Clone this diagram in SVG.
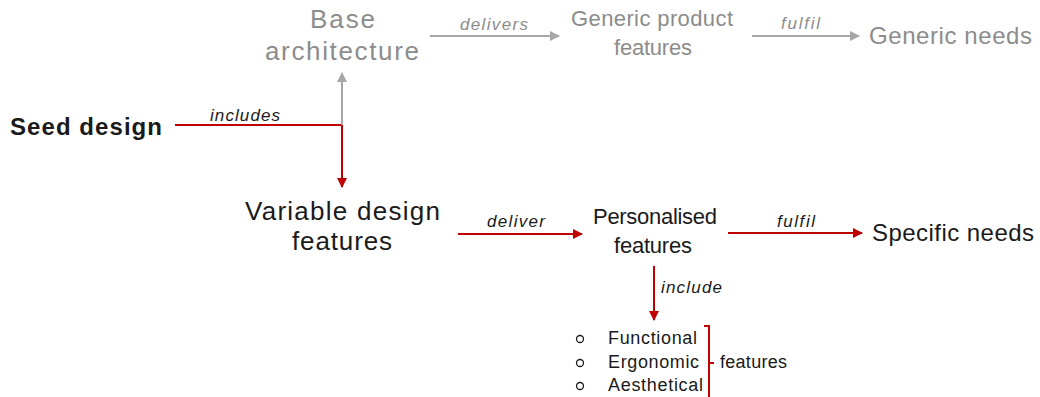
<svg xmlns="http://www.w3.org/2000/svg" width="1040" height="397" viewBox="0 0 1040 397">
<style>
text{font-family:"Liberation Sans","DejaVu Sans",sans-serif}
.g{fill:#8c8c8c}
.k{fill:#1a1a1a}
.lbl{font-style:italic;font-size:17px}
.gl{stroke:#a6a6a6;stroke-width:2;fill:none}
.rl{stroke:#c00000;stroke-width:2;fill:none}
</style>
<defs>
<marker id="ag" markerWidth="10" markerHeight="10" refX="9" refY="5" orient="auto" markerUnits="userSpaceOnUse"><path d="M0,0 L10,5 L0,10 z" fill="#a6a6a6"/></marker>
<marker id="ar" markerWidth="10" markerHeight="10" refX="9" refY="5" orient="auto" markerUnits="userSpaceOnUse"><path d="M0,0 L10,5 L0,10 z" fill="#c00000"/></marker>
</defs>
<rect width="1040" height="397" fill="#fff"/>
<g id="connectors">
<path class="rl" d="M175,125 H342 V187" marker-end="url(#ar)"/>
<path class="gl" d="M342,125 V73" marker-end="url(#ag)"/>
<path class="gl" d="M430,36 H559" marker-end="url(#ag)"/>
<path class="gl" d="M752,36 H859" marker-end="url(#ag)"/>
<path class="rl" d="M458,234 H582" marker-end="url(#ar)"/>
<path class="rl" d="M728,233 H862" marker-end="url(#ar)"/>
<path class="rl" d="M654,266 V320" marker-end="url(#ar)"/>
<path class="rl" stroke-width="1.5" d="M704,326 H709 V397 M709,363 H714"/>
<text class="lbl k" x="210" y="121" textLength="70">includes</text>
<text class="lbl g" x="460" y="30" textLength="68">delivers</text>
<text class="lbl g" x="781" y="29" textLength="39">fulfil</text>
<text class="lbl k" x="487" y="227" textLength="58">deliver</text>
<text class="lbl k" x="777" y="227" textLength="38">fulfil</text>
<text class="lbl k" x="661" y="293" textLength="61">include</text>
</g>
<g id="seed"><text class="k" x="10" y="135" font-size="24" font-weight="bold" textLength="152">Seed design</text></g>
<g id="base"><text class="g" x="310" y="28" font-size="26" textLength="65">Base</text><text class="g" x="265" y="60" font-size="26" textLength="154">architecture</text></g>
<g id="generic-features"><text class="g" x="571" y="26" font-size="22" textLength="162">Generic product</text><text class="g" x="614" y="55" font-size="22" textLength="78">features</text></g>
<g id="generic-needs"><text class="g" x="869" y="44" font-size="24" textLength="163">Generic needs</text></g>
<g id="variable"><text class="k" x="245" y="220" font-size="26" textLength="195">Variable design</text><text class="k" x="292" y="250" font-size="26" textLength="100">features</text></g>
<g id="personalised"><text class="k" x="593" y="224" font-size="22" textLength="124">Personalised</text><text class="k" x="614" y="253" font-size="22" textLength="78">features</text></g>
<g id="specific"><text class="k" x="872" y="241" font-size="24" textLength="162">Specific needs</text></g>
<g id="list">
<circle cx="580" cy="339" r="3.5" fill="none" stroke="#1a1a1a" stroke-width="1.3"/>
<circle cx="580" cy="363" r="3.5" fill="none" stroke="#1a1a1a" stroke-width="1.3"/>
<circle cx="580" cy="386" r="3.5" fill="none" stroke="#1a1a1a" stroke-width="1.3"/>
<text class="k" x="608" y="344" font-size="18" textLength="89">Functional</text>
<text class="k" x="608" y="368" font-size="18" textLength="91">Ergonomic</text>
<text class="k" x="608" y="391" font-size="18" textLength="95">Aesthetical</text>
<text class="k" x="720" y="368" font-size="18" textLength="67">features</text>
</g>
</svg>
